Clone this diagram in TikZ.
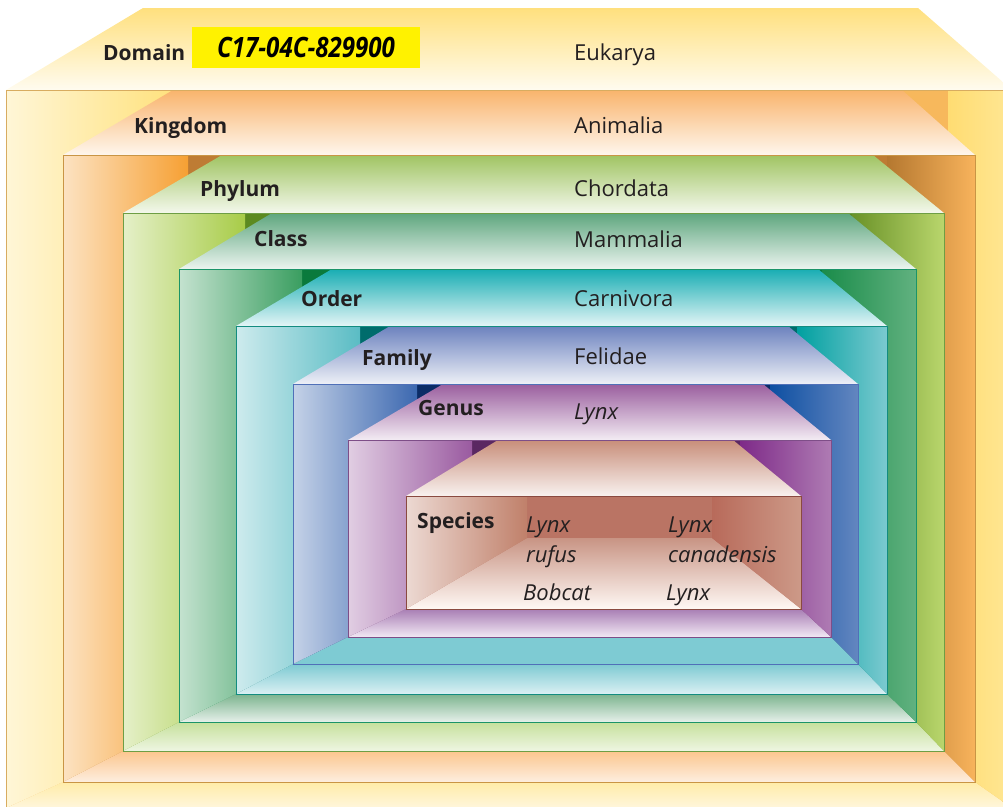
\documentclass[tikz,border=0pt]{standalone}
\usepackage{fontspec}
\setmainfont{Open Sans}
\usepackage{graphicx}

% one line of colours per rank: top, wall, back, side, floor (2), edge
\newcommand{\levelcolors}[8]{%
  \definecolor{#1Top}{HTML}{#2}\definecolor{#1Wall}{HTML}{#3}%
  \definecolor{#1Back}{HTML}{#4}\definecolor{#1Side}{HTML}{#5}%
  \definecolor{#1FloorA}{HTML}{#6}\definecolor{#1FloorB}{HTML}{#7}%
  \definecolor{#1Edge}{HTML}{#8}}
\levelcolors{domain}{FFE07E}{FFE17A}{F7B85C}{FFDC72}{FFECA8}{FFF6DC}{D8AC60}
\levelcolors{kingdom}{F9B46C}{F6A033}{BE7C34}{B57830}{FCC68E}{FDEEDF}{C99545}
\levelcolors{phylum}{A0C462}{A8CC48}{5C8A20}{6A9228}{C6E09C}{EEF6E2}{6E9E44}
\levelcolors{class}{5EA67E}{3A9E60}{0A7A3C}{1A8C4A}{7CB48E}{E6F0EA}{1B9468}
\levelcolors{order}{18ADB3}{5ABCC4}{006C6C}{00A0A0}{7ECAD2}{DAF0F3}{138C80}
\levelcolors{family}{6C82BE}{3C68B0}{0B2C66}{0D4FA2}{7ECBD3}{7ECBD3}{5070B8}
\levelcolors{genus}{9A5E9E}{9A5AA0}{5A2862}{7E2A88}{A87EB4}{F2E8F4}{7E4E88}
\levelcolors{species}{C88E7A}{C0806A}{BA7464}{B86A5A}{C89484}{FFF8F4}{8A4A40}
\definecolor{ink}{HTML}{231F20}
\definecolor{codeyellow}{HTML}{FFF200}

\begin{document}
\begin{tikzpicture}[x=1pt,y=-1pt]
\tikzstyle{rankname}=[anchor=base west,inner sep=0pt,text=ink,font=\fontsize{21}{30}\selectfont\bfseries]
\tikzstyle{taxon}=[anchor=base west,inner sep=0pt,text=ink,font=\fontsize{22}{30}\selectfont]
\tikzstyle{latin}=[taxon,align=left,font=\fontsize{22}{30}\selectfont\itshape]
\tikzstyle{codebox}=[fill=codeyellow,minimum width=228pt,minimum height=41pt,inner sep=0pt,text=black,font=\fontsize{28}{30}\selectfont\bfseries\itshape]
\path[use as bounding box] (0,0) rectangle (1003,806);
\clip (0,0) rectangle (1003,806);

% boxes, outermost first
\foreach \n/\xl/\yt/\xr/\yb/\bl/\br/\yr/\ql/\qr/\il/\ir/\ib in {
  domain/6/90/1012/808/143/918/8/180/948/63/975/782,
  kingdom/63/155/975/782/173/902/90/188/887/123/944/751,
  phylum/123/213/944/751/222/873/155/245/852/179/916/722,
  class/179/269/916/722/272/848/213/302/822/236/887/694,
  order/236/326/887/694/332/818/269/360/797/293/858/664,
  family/293/384/858/664/390/788/326/417/770/348/831/637,
  genus/348/440/831/637/443/763/384/472/740/406/801/609,
  species/406/496/801/609/498/733/440/527/712/527/712/538}
{
  \shade[top color=\n Top,bottom color=\n Top!12] (\xl,\yt) -- (\bl,\yr) -- (\br,\yr) -- (\xr,\yt) -- cycle;
  \fill[\n Back] (\xl,\yt) rectangle (\xr,\yb);
  \shade[top color=\n FloorA,bottom color=\n FloorB] (\xl,\yb) -- (\il,\ib) -- (\ir,\ib) -- (\xr,\yb) -- cycle;
  \shade[left color=\n Wall!30,right color=\n Wall] (\xl,\yt) -- (\ql,\yt) -- (\ql,\ib) -- (\il,\ib) -- (\xl,\yb) -- cycle;
  \shade[left color=\n Side,right color=\n Wall!80] (\qr,\yt) -- (\xr,\yt) -- (\xr,\yb) -- (\ir,\ib) -- (\qr,\ib) -- cycle;
}
% front edges
\foreach \n/\xl/\yt/\xr/\yb in {domain/6/90/1012/808, kingdom/63/155/975/782,
  phylum/123/213/944/751, class/179/269/916/722, order/236/326/887/694,
  family/293/384/858/664, genus/348/440/831/637, species/406/496/801/609}
  \draw[\n Edge,line width=1pt] (\xl,\yt) rectangle (\xr,\yb);

% ranks and names
\node[rankname] (domain) at (103,60) {Domain};
\node[codebox] (code) at (306,47.5) {\scalebox{0.86}[1]{C17-04C-829900}};
\node[taxon] (eukarya) at (574,60) {Eukarya};
\node[rankname] (kingdom) at (134,133) {Kingdom};
\node[taxon] (animalia) at (574,133) {Animalia};
\node[rankname] (phylum) at (200,196) {Phylum};
\node[taxon] (chordata) at (574,196) {Chordata};
\node[rankname] (class) at (254,246) {Class};
\node[taxon] (mammalia) at (574,247) {Mammalia};
\node[rankname] (order) at (301,306) {Order};
\node[taxon] (carnivora) at (574,306) {Carnivora};
\node[rankname] (family) at (362,365) {Family};
\node[taxon] (felidae) at (574,364) {Felidae};
\node[rankname] (genus) at (418,415) {Genus};
\node[latin] (lynxgenus) at (574,419) {Lynx};
\node[rankname] (species) at (417,528) {Species};
\node[latin] (rufus) at (526,562) {Lynx\\rufus};
\node[latin] (canadensis) at (668,562) {Lynx\\canadensis};
\node[latin] (bobcat) at (523,600) {Bobcat};
\node[latin] (lynx) at (666,600) {Lynx};
\end{tikzpicture}
\end{document}
